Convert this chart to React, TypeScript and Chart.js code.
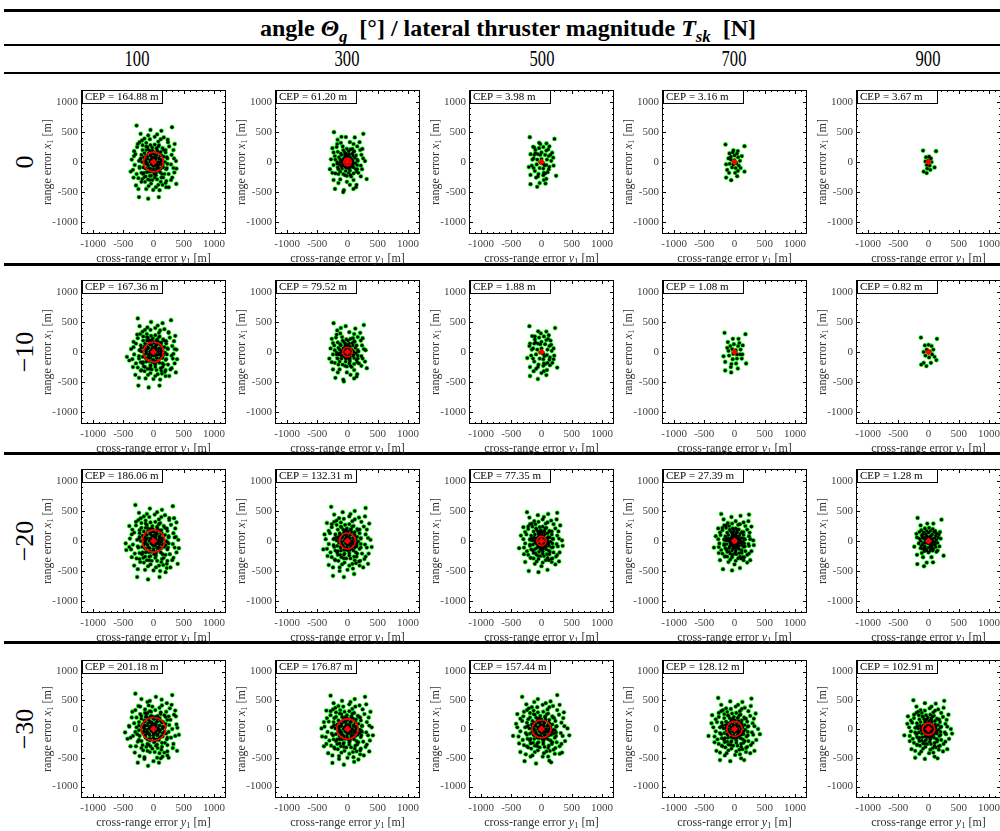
import { useEffect, useRef } from "react";
import { Chart, registerables } from "chart.js";

Chart.register(...registerables);

// ---- table headings ----
const THRUSTS = [100, 300, 500, 700, 900];
const ANGLES = [0, -10, -20, -30];

// ---- axes (metres) ----
const AXIS_MIN = -1200;
const AXIS_MAX = 1200;
const AXIS_TICKS = [-1000, -500, 0, 500, 1000];

// ---- circular error probable per angle row, one value per thrust ----
const CEP_A0 = [164.88, 61.2, 3.98, 3.16, 3.67];
const CEP_A10 = [167.36, 79.52, 1.88, 1.08, 0.82];
const CEP_A20 = [186.06, 132.31, 77.35, 27.39, 1.28];
const CEP_A30 = [201.18, 176.87, 157.44, 128.12, 102.91];

// mean impact point
const CENTER = [0, 0];

// ---- impact points, flat pairs [cross-range y1, range x1] in metres ----
const CLOUD_A0_T100 = [
  -280, 607, 306, 580, -50, 535, 130, 520, -213, 470, -88, 443, 235, 372, 350, 300, -323, 98, -377, -159, 372, 16, 345, -175,
  377, -366, -240, -585, -88, -612, 88, -585, -5, -465, -186, -284, 252, -421, 213, -317, -290, -390, 380, -110,
  -270, 250, -230, 330, -150, 390, 20, 420, 170, 410, 260, 260, 300, 120, 290, -40, 250, -200, 150, -380, 40, -420, -80, -400,
  -200, -330, -280, -200, -310, -50, -300, 130, -180, 280, 80, 340, 200, 200, 220, -100, 160, -260, -60, -300, -160, -180,
  -220, 40, -120, 320, 120, -330, 310, -260, -330, -260, 60, 460, -250, -450,
  -320, 180, -260, 300, -190, 360, 120, 380, 240, 330, 330, 200, 340, 60, 330, -100, 290, -300, 200, -350, 80, -380,
  -40, -360, -140, -330, -250, -270, -340, -130, -360, 40, -60, 380, 210, -420, -120, -450, 100, -470,
  -200, 120, -180, 200, -120, 260, -50, 280, 20, 290, 90, 280, 150, 230, 200, 160, 220, 80, 230, -30, 210, -120, 180, -200,
  130, -260, 60, -290, -20, -300, -90, -290, -150, -250, -200, -180, -230, -80, -240, 20, -210, 60, -140, 20, -90, -60,
  -30, -160, 40, -160, 100, -110, 150, -40, 120, 40, 60, 200, -20, 190, -100, 250, 20, -260, -170, -200, 170, 200, -60, -230,
  -150, 150, -90, 210, -20, 240, 50, 230, 120, 170, 170, 90, 190, 0, 160, -90, 110, -170, 40, -220, -40, -230, -110, -170,
  -170, -90, -190, 0, -160, 80, -100, 90, -40, 130, 30, 120, 90, 70, 110, -20, 70, -90, 0, -120, -70, -100, -110, -30,
  -50, 30, 20, 40, 60, -40, -20, -50, 0, 80, -60, 190, 80, 260, -130, -240, 140, -200, 230, 60, -230, -100,
  -130, 40, -80, 150, -10, 180, 60, 170, 130, 110, 150, 30, 140, -50, 90, -140, 20, -170, -60, -160, -130, -110, -150, -30,
  -30, 80, 40, 70, 80, 0, 30, -60, -40, 0, 110, 120, -120, 200, 10, -200,
  -60, 0, -30, -40, 0, -70, 30, -40, 60, 0, 30, 40, 0, 70, -30, 40, -90, 50, -90, -50, 90, 50, 90, -50, 0, 140, 0, -140,
  -50, 110, 50, 110, -50, -110, 50, -110, -120, 0, 120, 0, -120, 110, 120, -110, -120, -110, 120, 110, -150, 60, 150, -60,
  -40, 180, 40, -180, 80, 160, -80, -160, 20, 10, -10, -20,
];
const CLOUD_A0_T300 = [
  -224, 497, 262, 470, -27, 415, 120, 410, -164, 371, -273, 44, -290, -120, -230, -300, -207, -448, -71, -502, 98, -448,
  317, -284, 290, 16, 246, 218, -60, -470, 150, -380, -250, 230, 200, 330,
  -230, 160, -170, 300, 100, 300, 210, 200, 260, 60, 240, -120, 220, -240, 40, -380, -150, -350, -250, -180, 140, -420, -100, 420,
  -180, 250, -110, 320, 40, 330, 160, 260, 230, 120, 220, -60, 180, -180, 100, -300, -10, -330, -120, -290, -200, -190,
  -230, -50, -210, 100, -80, 260, 80, 220, 160, -120, -150, -120, -40, -220, 60, -240,
  -140, 80, -110, 140, -70, 200, -10, 220, 50, 210, 100, 170, 140, 110, 160, 40, 160, -50, 140, -120, 100, -190, 50, -220,
  -10, -230, -70, -200, -120, -160, -160, -90, -170, 0, -120, -10, -70, -60, -20, -100, 40, -100, 90, -40, 80, 30,
  30, 130, -40, 130, -90, 30, 20, -180, 150, -160, -150, -200, -200, 40,
  -100, 120, -50, 170, 20, 180, 80, 140, 120, 70, 130, -20, 100, -90, 40, -140, -30, -150, -90, -110, -130, -40, -120, 40,
  -60, 60, 0, 90, 50, 50, 60, -30, 10, -70, -50, -30, 0, 20, -20, 140, 110, 180, -160, 170, 170, 20, -170, -30,
  -80, 0, -20, 40, 40, 10, 90, 100, -100, -70, 30, -110, -40, 110, 80, -70,
  -45, 0, -20, -30, 0, -50, 20, -30, 45, 0, 20, 30, 0, 50, -20, 30, -70, 40, -70, -40, 70, 40, 70, -40, 0, 100, 0, -100,
  -40, 80, 40, 80, -40, -80, 40, -80, -90, 0, 90, 0,
];
const CLOUD_A0_T500 = [
  -193, 413, 215, 385, -39, 319, 82, 308, -138, 253, 176, 154, 193, 72, -209, -83, -182, -215, 242, -231, -182, -369,
  -72, -413, 66, -358, -30, -350,
  -130, 60, -100, 150, 80, 190, 120, 100, 120, -120, 60, -190, -60, -240, -130, -100, -180, 130, 200, -60, -20, 300,
  40, -300, -20, 120, 50, -60, -120, 240,
  -100, 200, -40, 230, 30, 250, 110, 210, 150, 120, 160, 20, 130, -80, 100, -170, 30, -220, -50, -200, -110, -150,
  -160, -60, -150, 40, -120, 120, -60, 130, 0, 160, 60, 120, 90, 40, 80, -50, 30, -110, -30, -100, -80, -40, -70, 40,
  0, 50, 30, -30, -20, -10, 40, -180, -90, -260, 80, -280, 130, 260,
];
const CLOUD_A0_T700 = [
  -149, 292, 165, 264, -17, 193, 55, 182, -83, 143, 121, 99, -138, -39, -121, -132, 165, -160, -138, -259, -55, -303,
  44, -237, 55, -149,
  -60, 90, 0, 110, 60, 80, 90, 20, 70, -60, 20, -100, -40, -90, -80, -30, -60, 40, 0, 30, 30, -20, -20, -40, 100, -100,
  -100, 60, 10, -180, -30, 160, 40, 140, -90, -180,
];
const CLOUD_A0_T900 = [
  -90, 190, 125, 180, -80, -160, -30, -185, 100, -90, 30, -130, -40, 80, 10, 90, 40, 60, 50, 0, 20, -60, -30, -50, -50, 10,
  0, 30, -20, -110,
];

const CLOUD_A10_T100 = [
  -260, 560, 290, 530, -40, 500, 150, 480, -230, 430, -100, 410, 250, 330, 360, 270, -330, 80, -400, -140, 380, 40, 350, -190,
  370, -340, -250, -560, -80, -590, 100, -560, 0, -450, -200, -300, 260, -400, 200, -300, -300, -380, 390, -120, -440, -80,
  330, -30,
  -260, 230, -220, 300, -140, 370, 30, 400, 180, 380, 270, 240, 310, 100, 300, -60, 240, -210, 140, -360, 30, -400, -90, -380,
  -210, -310, -290, -190, -320, -40, -290, 140, -170, 260, 90, 320, 210, 180, 210, -120, 150, -250, -70, -280, -170, -170,
  -230, 30, -110, 300, 130, -310, 300, -270, -340, -250, 70, 440, -240, -430,
  -330, 170, -270, 290, -180, 340, 110, 360, 250, 320, 340, 180, 350, 50, 320, -110, 280, -290, 190, -330, 70, -370,
  -50, -350, -150, -320, -260, -260, -350, -120, -370, 50, -50, 370, 200, -400, -130, -440, 110, -460,
  -210, 110, -170, 190, -110, 250, -40, 270, 30, 280, 100, 260, 160, 210, 210, 140, 230, 60, 220, -40, 200, -130, 170, -210,
  120, -270, 50, -300, -30, -290, -100, -280, -160, -240, -210, -170, -240, -70, -230, 30, -200, 70, -130, 30, -80, -50,
  -20, -170, 50, -150, 110, -100, 160, -50, 130, 50, 50, 190, -30, 200, -90, 240, 30, -250, -180, -190, 180, 190, -50, -240,
  -140, 140, -80, 200, -10, 230, 60, 210, 130, 160, 180, 80, 190, -10, 150, -100, 100, -180, 30, -210, -50, -220, -120, -160,
  -180, -80, -200, 10, -150, 90, -90, 80, -30, 120, 40, 110, 90, 60, 120, -30, 60, -100, -10, -130, -80, -90, -120, -20,
  -40, 20, 30, 30, 60, -50, -30, -60, 10, 70, -70, 180, 90, 250, -140, -250, 150, -190, 240, 50, -240, -110,
  -120, 40, -70, 140, 0, 170, 70, 160, 130, 100, 150, 20, 130, -60, 80, -150, 10, -170, -70, -150, -130, -100, -150, -40,
  -20, 70, 40, 60, 80, 10, 20, -60, -50, -10, 100, 130, -110, 190, 20, -190,
  -60, 10, -30, -30, 0, -60, 30, -30, 60, 10, 30, 50, 0, 80, -30, 50, -90, 60, -90, -40, 90, 60, 90, -40, 10, 150, 0, -130,
  -50, 120, 50, 120, -50, -100, 50, -100, -120, 10, 120, 10, -120, 120, 120, -100, -120, -100, 120, 120, -150, 70, 150, -50,
  -40, 190, 40, -170, 80, 170, -80, -150, 20, 20, -10, -10,
];
const CLOUD_A10_T300 = [
  -230, 480, 270, 450, -30, 430, 130, 390, -170, 360, -280, 60, -300, -110, -240, -290, -200, -430, -60, -490, 110, -440,
  320, -270, 300, 30, 250, 230, -70, -460, 160, -370, -260, 220, 210, 320, 290, -160,
  -240, 150, -180, 290, 110, 300, 220, 190, 270, 50, 250, -110, 230, -230, 50, -380, -160, -340, -260, -170, 150, -410, -110, 400,
  -190, 240, -120, 310, 30, 330, 170, 250, 240, 110, 230, -70, 190, -190, 110, -300, -10, -340, -130, -290, -210, -180,
  -240, -40, -220, 110, -90, 250, 90, 230, 170, -110, -160, -110, -40, -230, 70, -250,
  -150, 70, -120, 130, -80, 190, -20, 210, 50, 220, 110, 180, 150, 110, 170, 30, 170, -60, 150, -130, 110, -200, 50, -230,
  -10, -240, -80, -210, -130, -160, -170, -100, -180, -10, -130, -20, -80, -70, -30, -110, 40, -110, 100, -50, 90, 20,
  30, 140, -40, 140, -100, 20, 30, -190, 160, -170, -150, -210, -210, 30,
  -110, 110, -60, 170, 10, 190, 80, 150, 130, 70, 140, -20, 110, -100, 40, -150, -30, -160, -100, -110, -140, -40, -130, 40,
  -70, 60, 0, 90, 60, 50, 60, -40, 10, -80, -50, -30, 0, 20, -20, 130, 120, 170, -160, 160, 180, 10, -180, -40,
  -80, 10, -20, 50, 40, 0, 90, 110, -100, -60, 30, -120, -40, 100, 90, -60,
  -50, 0, -20, -40, 0, -50, 20, -20, 50, 10, 20, 40, 0, 60, -20, 20, -70, 30, -70, -50, 70, 30, 70, -50, 0, 110, 10, -100,
  -40, 70, 40, 90, -40, -90, 40, -70, -100, 0, 100, 0,
];
const CLOUD_A10_T500 = [
  -200, 430, 225, 400, -235, -100, 260, -260, -190, -400, -60, -450, 80, -385, -55, 345, 80, 340, -155, 265, 150, 190,
  -190, -250, 200, 60, -200, 100, 0, -350,
  -140, 60, -100, 160, 80, 200, 130, 100, 130, -130, 60, -200, -60, -250, -140, -110, -190, 140, 210, -60, -10, 310,
  40, -320, -20, 130, 50, -70, -110, 260, 180, -180,
  -110, 210, -40, 240, 40, 260, 110, 220, 160, 120, 170, 20, 140, -90, 100, -180, 30, -230, -50, -210, -120, -160,
  -170, -60, -160, 40, -120, 140, -60, 140, 0, 170, 60, 130, 100, 40, 90, -50, 30, -120, -30, -110, -90, -40, -70, 40,
  0, 60, 30, -30, -20, -10, 40, -190, -90, -280, 90, -300, 120, 280, -130, -320, 140, -220, 200, -120,
];
const CLOUD_A10_T700 = [
  -165, 319, 181, 297, -27, 220, 66, 220, -110, 165, 137, 110, -181, -71, -154, -165, 192, -192, -154, -308, -55, -341,
  55, -275, 27, -192,
  -70, 100, -10, 130, 60, 100, 100, 40, 90, -40, 40, -110, -30, -120, -90, -60, -100, 20, -40, 50, 20, 30, 40, -40,
  -20, -30, 0, 0, 120, -110, -120, 70, -50, -200, 80, 150, 130, -40, -60, -250,
];
const CLOUD_A10_T900 = [
  -125, 240, 140, 220, -120, -210, -35, -235, 130, -135, 40, -180, -60, 110, 0, 120, 50, 100, 80, 40, 60, -40, 10, -90,
  -50, -60, -80, 0, -30, 40, 20, 10, -80, -180, 100, -80,
];

const CLOUD_A20_T100 = [
  -300, 600, 320, 580, -60, 540, 140, 520, -240, 470, -110, 450, 260, 380, 380, 310, -360, 110, -450, -150, 410, 20, 380, -190,
  400, -380, -270, -600, -90, -640, 100, -600, 0, -490, -230, -300, 280, -440, 230, -330, -320, -410, 420, -120, -460, -40,
  350, 60, -400, 250, 200, -520,
  -290, 260, -250, 350, -160, 410, 20, 440, 190, 430, 290, 270, 330, 130, 320, -50, 270, -220, 160, -400, 40, -440, -90, -420,
  -220, -350, -310, -210, -340, -60, -320, 140, -200, 300, 90, 360, 220, 210, 240, -110, 170, -280, -70, -320, -180, -190,
  -240, 40, -130, 340, 130, -350, 330, -280, -360, -270, 60, 480, -260, -470, 340, 380, -400, -100,
  -350, 190, -290, 320, -210, 380, 130, 400, 260, 350, 360, 210, 370, 70, 350, -110, 310, -320, 220, -380, 90, -410,
  -50, -390, -160, -360, -280, -290, -370, -140, -390, 40, -70, 400, 220, -450, -140, -480, 110, -500,
  -230, 130, -200, 220, -130, 290, -50, 310, 30, 320, 110, 300, 170, 250, 230, 170, 250, 80, 250, -40, 230, -140, 200, -230,
  140, -300, 60, -330, -30, -330, -110, -320, -170, -280, -230, -200, -260, -90, -270, 20, -230, 70, -150, 30, -100, -70,
  -40, -180, 50, -180, 110, -120, 170, -50, 140, 50, 60, 220, -30, 210, -110, 270, 30, -280, -190, -220, 190, 220,
  -70, -260, -160, -60, 200, -70, 10, -30,
  -160, 160, -100, 220, -20, 250, 60, 240, 130, 180, 190, 100, 210, 0, 180, -100, 120, -190, 40, -240, -50, -250, -130, -190,
  -190, -100, -210, 0, -180, 90, -110, 100, -40, 140, 30, 130, 100, 80, 120, -20, 80, -100, 0, -130, -80, -110, -120, -40,
  -60, 40, 20, 50, 70, -40, -20, -60, 0, 90, -60, 200, 90, 280, -140, -260, 150, -220, 250, 60, -250, -110, -230, 180,
  230, -20, 60, 170, -70, -180, 130, 40, -120, 20,
  -140, 60, -90, 170, -10, 200, 70, 190, 140, 120, 160, 40, 150, -60, 100, -150, 20, -190, -60, -180, -140, -120, -160, -40,
  -30, 90, 40, 80, 90, 10, 30, -80, -40, 10, 120, 140, -130, 220, 10, -220,
  -70, 0, -40, -40, 0, -80, 40, -40, 70, 0, 40, 40, 0, 80, -40, 40, -100, 50, -100, -60, 100, 50, 100, -60, 0, 160, 0, -160,
  -60, 120, 60, 120, -60, -120, 60, -120, -140, 0, 140, 0, -130, 120, 130, -120, -130, -130, 130, 130, -170, 60, 170, -60,
  -40, 200, 40, -200, 90, 180, -90, -180, 20, 10, -10, -20,
];
const CLOUD_A20_T300 = [
  -270, 570, 300, 550, -80, 480, 120, 500, -220, 440, 360, 290, -380, 110, -400, -140, 380, 20, 350, -210, 340, -380,
  -240, -580, -60, -600, 110, -550, 0, -480, -210, -310, 260, -440, 210, -330, -310, -400, 400, -100, -340, 300, 290, 410,
  -130, -500,
  -260, 230, -220, 320, -140, 380, 30, 410, 190, 390, 270, 240, 300, 110, 290, -60, 240, -210, 140, -370, 30, -410, -90, -390,
  -200, -320, -280, -190, -310, -50, -290, 130, -180, 270, 80, 330, 200, 190, 220, -110, 150, -260, -60, -290, -160, -170,
  -220, 40, -110, 310, 120, -320, 300, -260, -330, -250, 50, 450, -240, -440,
  -310, 170, -260, 280, -180, 340, 120, 360, 230, 320, 320, 190, 340, 50, 320, -110, 280, -300, 190, -340, 80, -380,
  -50, -360, -150, -330, -260, -270, -340, -130, -360, 30, -60, 370, 200, -410, -130, -440, 90, -460,
  -200, 110, -160, 190, -110, 240, -40, 270, 30, 280, 100, 250, 160, 200, 200, 130, 220, 50, 220, -50, 200, -130, 160, -210,
  110, -260, 50, -290, -20, -290, -100, -270, -160, -230, -200, -160, -230, -70, -230, 30, -190, 60, -130, 20, -90, -60,
  -30, -150, 40, -150, 100, -100, 150, -40, 120, 40, 50, 190, -30, 180, -100, 230, 30, -240, -170, -190, 170, 180, -60, -230,
  -130, 130, -70, 190, -10, 210, 60, 200, 120, 150, 160, 70, 180, -10, 150, -90, 100, -160, 30, -200, -50, -210, -110, -160,
  -170, -80, -180, 10, -150, 70, -80, 80, -20, 110, 40, 100, 90, 50, 100, -30, 60, -90, -10, -110, -70, -80, -100, -20,
  -40, 30, 20, 30, 50, -40, -20, -40, 0, 60, -50, 170, 80, 240, -120, -230, 140, -190, 220, 40, -220, -100,
  -110, 50, -60, 140, 10, 160, 70, 150, 120, 90, 140, 20, 120, -50, 70, -130, 10, -160, -60, -150, -120, -100, -140, -30,
  -20, 70, 30, 60, 70, 0, 20, -60,
  -60, 0, -30, -40, 0, -70, 30, -40, 60, 0, 30, 40, 0, 70, -30, 40, -90, 50, -90, -50, 90, 50, 90, -50, 0, 140, 0, -140,
  -50, 110, 50, 110, -50, -110, 50, -110, -120, 0, 120, 0, -120, 110, 120, -110, -110, -110, 110, 110, -150, 60, 150, -60,
];
const CLOUD_A20_T500 = [
  -240, 480, 260, 470, -60, 430, 110, 450, -200, 390, 310, 260, -340, 90, -370, -120, 340, 10, 300, -190, 290, -340,
  -210, -500, -50, -520, 100, -480, 0, -420, -180, -280, 230, -390, 180, -290, -270, -350, 350, -80, -300, 230, 250, 360,
  -220, 200, -190, 280, -120, 330, 20, 360, 160, 340, 230, 210, 260, 90, 250, -50, 200, -190, 120, -320, 20, -360, -80, -340,
  -180, -280, -240, -170, -270, -40, -250, 110, -150, 240, 70, 290, 170, 160, 190, -100, 130, -220, -50, -250, -140, -150,
  -190, 30, -100, 280, 100, -280, 260, -230, -290, -220, 40, 400,
  -270, 150, -220, 240, -160, 290, 100, 310, 200, 280, 280, 160, 290, 40, 270, -90, 240, -260, 160, -300, 70, -320,
  -50, -300, -130, -290, -220, -230, -290, -110, -300, 30, -50, 320, 170, -350, -110, -380,
  -170, 90, -130, 160, -90, 210, -30, 230, 20, 240, 80, 220, 130, 170, 170, 110, 190, 40, 180, -40, 170, -110, 140, -180,
  90, -220, 40, -250, -20, -250, -80, -230, -130, -200, -170, -140, -190, -60, -190, 20, -160, 50, -110, 20, -70, -50,
  -20, -130, 30, -130, 80, -90, 120, -30, 100, 40, 40, 160, -20, 160, -80, 190, 20, -210, -140, -160, 140, 160,
  -110, 110, -60, 160, -10, 180, 50, 170, 100, 130, 140, 60, 150, -10, 130, -80, 80, -140, 20, -170, -40, -180, -100, -130,
  -140, -60, -150, 10, -120, 60, -60, 60, -20, 90, 30, 80, 70, 40, 80, -30, 40, -70, -10, -90, -60, -60, -80, -10,
  -30, 20, 20, 20, 40, -30, -10, -30, 0, 40, -40, 140, 60, 210, -100, -200, 120, -160, 190, 30, -190, -80,
  -90, 40, -50, 120, 10, 140, 60, 120, 110, 70, 110, -50, 60, -110, -10, -140, -70, -110, -110, -30,
  -50, 0, -20, -40, 0, -60, 20, -40, 50, 0, 20, 40, 0, 60, -20, 40, -80, 40, -80, -40, 80, 40, 80, -40, 0, 120, 0, -120,
  -40, 90, 40, 90, -40, -90, 40, -90, -100, 0, 100, 0,
];
const CLOUD_A20_T700 = [
  -220, 450, 240, 440, -50, 400, 100, 420, -180, 360, 280, 240, -310, 80, -340, -110, 310, 10, 280, -170, 260, -320,
  -190, -470, -40, -490, 90, -450, 0, -390, -160, -260, 210, -360, 160, -270, -240, -320, 320, -70, -270, 210, 230, 330,
  -200, 180, -170, 260, -110, 300, 20, 330, 150, 310, 210, 190, 240, 80, 230, -50, 180, -170, 110, -290, 20, -330, -70, -310,
  -160, -250, -220, -150, -250, -40, -230, 100, -140, 220, 60, 270, 150, 150, 170, -90, 120, -200, -40, -230, -130, -140,
  -170, 30, -90, 250, 90, -260, 240, -210, -260, -200,
  -240, 140, -200, 220, -140, 260, 90, 280, 180, 250, 250, 140, 260, 30, 240, -80, 210, -230, 140, -270, 60, -290,
  -40, -270, -120, -260, -200, -210, -260, -100, -270, 30, -40, 290, 150, -320, -100, -350,
  -150, 80, -120, 140, -80, 190, -30, 210, 20, 210, 70, 190, 120, 150, 150, 100, 170, 30, 160, -40, 150, -100, 120, -160,
  80, -200, 30, -220, -20, -220, -70, -210, -120, -180, -150, -120, -170, -50, -170, 20, -140, 40, -100, 10, -60, -40,
  -20, -120, 30, -120, 70, -80, 110, -30, 90, 30, 40, 140, -20, 140, -70, 170, 20, -190, -130, -150, 130, 140,
  -100, 100, -50, 150, -10, 170, 40, 160, 90, 120, 130, 50, 140, -10, 120, -70, 70, -130, 20, -160, -40, -160, -90, -120,
  -130, -50, -140, 10, -110, 50, -50, 50, -20, 80, 30, 70, 60, 40, 70, -30, 40, -60, -10, -80, -50, -50, -70, -10,
  -30, 20, 20, 20, 30, -30, -10, -30, 0, 40, -40, 130, 50, 190, -90, -180, 110, -150, 170, 30, -170, -70,
  -80, 30, -30, 110, 20, 120, 80, 80, 100, 0, 60, -100, -20, -120, -80, -90,
  -45, 0, -20, -30, 0, -50, 20, -30, 45, 0, 20, 30, 0, 50, -20, 30, -70, 40, -70, -40, 70, 40, 70, -40, 0, 100, 0, -100,
  -40, 80, 40, 80, -40, -80, 40, -80, -90, 0, 90, 0,
];
const CLOUD_A20_T900 = [
  -180, 385, 215, 355, -235, -95, 250, -245, -185, -385, -75, -420, 75, -355, -20, 290, 80, 290, -130, 260, 190, 150,
  -190, -230, -90, -270, 50, -270, 200, 40, -200, 120, 130, -180, -30, -360,
  -120, 180, -60, 210, 10, 220, 70, 200, 130, 130, 160, 60, 150, -30, 120, -100, 70, -160, 0, -190, -70, -170, -130, -120,
  -160, -40, -150, 40, -100, 110, -50, 120, 0, 140, 60, 110, 100, 50, 100, -20, 60, -80, 0, -110, -60, -90, -90, -30,
  -60, 40, -10, 60, 40, 20, 20, -40, -30, -20, 0, 0, -40, -140, 40, -140, 110, 170, -110, -200, 180, -90, -190, 60,
  -90, 60, -30, 90, 30, 80, 80, -50, -100, -60, 30, -90,
  -110, 90, -80, 150, -30, 170, 30, 170, 90, 150, 120, 90, 130, 20, 110, -60, 80, -130, 30, -160, -30, -160, -90, -130,
  -120, -80, -130, 0, -100, 50, -40, 80, 40, 80, 70, 0, 30, -60, -50, -30, -20, 20, 50, -110, -60, -110, 150, -160,
  -150, 150, 170, 110,
  -40, 0, -20, -30, 0, -40, 20, -30, 40, 0, 20, 30, 0, 40, -20, 30, -60, 30, -60, -30, 60, 30, 60, -30,
];

const CLOUD_A30_T100 = [
  -300, 615, 310, 590, -100, 470, 135, 510, -405, 55, -430, -170, -310, -410, -260, -585, -90, -640, 90, -585, 390, -380,
  395, 20, 360, 320, -200, 520, 40, 560, 220, 450, -350, 300, -250, 400, 300, 420, -380, -300, 250, -500, -150, -520,
  150, -480, 420, -100, -470, -60, 0, -560, 330, -260, -230, -470, 60, -500, -60, 490,
  -280, 200, -320, 100, -300, -50, -260, -220, -200, -330, -100, -380, 20, -400, 130, -360, 230, -280, 290, -150, 310, 0,
  280, 160, 210, 300, 100, 370, -20, 390, -140, 340, -220, 260, 180, -410, -340, -120, 340, 250, -50, -300, 250, 220,
  -360, 200, -300, 330, -220, 390, 140, 410, 270, 360, 370, 220, 380, 80, 360, -120, 320, -330, 230, -390, 100, -420,
  -60, -400, -170, -370, -290, -300, -380, -150, -400, 40, -80, 410, 230, -460, -150, -490, 120, -510,
  -240, 120, -200, 230, -140, 280, -60, 310, 30, 330, 120, 290, 180, 240, 230, 160, 260, 70, 250, -50, 230, -150, 190, -240,
  140, -310, 70, -330, -20, -340, -120, -310, -180, -280, -240, -190, -270, -90, -280, 30, -240, 60, -160, 40, -110, -80,
  -50, -170, 60, -180, 120, -130, 180, -60, 150, 40, 70, 230, -20, 220, -100, 280, 40, -290, -200, -210, 200, 210,
  -80, -270, -150, -50, 210, -80, 20, -20,
  -150, 150, -100, 200, -40, 230, 30, 210, 100, 180, 160, 120, 190, 40, 180, -50, 150, -130, 90, -190, 20, -220, -60, -200,
  -130, -150, -180, -60, -190, 30, -170, 90, -90, 100, -30, 120, 40, 110, 100, 60, 110, -20, 70, -90, 0, -110, -70, -80,
  -110, -10, -60, 40, 10, 30, 50, -30, -20, -40, 0, 60, 60, 130, -120, 250, 120, 260, -230, -120, 220, -180, -100, -260,
  60, -270, -40, 300, 140, -240, -200, 180, 200, 90, -240, -20,
  -140, 60, -80, 160, -10, 190, 70, 180, 140, 110, 160, 20, 150, -70, 100, -150, 20, -180, -70, -170, -140, -110, -160, -30,
  -30, 90, 40, 80, 90, 0, 30, -70, -50, 0, 120, 140, -130, 210, 10, -230,
  -70, 10, -40, -30, 0, -80, 40, -30, 70, 10, 40, 50, 0, 90, -40, 50, -100, 60, -100, -50, 100, 60, 100, -50, 10, 170, 0, -150,
  -60, 130, 60, 130, -60, -110, 60, -110, -150, 10, 150, 10, -140, 130, 140, -120, -140, -120, 140, 130, -180, 70, 180, -50,
  -50, 210, 50, -190, 100, 190, -100, -180, 20, 20, -10, -10,
];
const CLOUD_A30_T300 = [
  -280, 580, 290, 560, -90, 490, 120, 520, -230, 450, 380, 300, -390, 120, -420, -130, 400, 30, 370, -200, 360, -390,
  -250, -590, -60, -620, 110, -570, 0, -500, -220, -320, 270, -460, 220, -340, -320, -420, 420, -110, -430, 10, 310, 430,
  -350, 320, 180, -530, -140, -520,
  -280, 240, -240, 340, -150, 400, 30, 430, 200, 410, 280, 260, 320, 120, 310, -60, 260, -220, 150, -390, 30, -430, -100, -410,
  -210, -340, -300, -200, -330, -50, -310, 130, -190, 290, 80, 350, 210, 200, 230, -110, 160, -270, -60, -310, -170, -180,
  -230, 50, -120, 330, 120, -340, 320, -270, -350, -260, 50, 470, -250, -460, -390, -300,
  -340, 190, -280, 310, -200, 370, 130, 390, 250, 340, 350, 200, 360, 60, 340, -110, 300, -310, 210, -370, 90, -400,
  -50, -380, -160, -350, -270, -290, -360, -140, -380, 40, -70, 390, 210, -440, -140, -470, 100, -490,
  -230, 120, -190, 210, -130, 270, -50, 300, 30, 310, 110, 280, 170, 230, 220, 150, 240, 60, 240, -50, 220, -140, 180, -230,
  130, -290, 60, -320, -20, -320, -110, -300, -170, -260, -230, -180, -260, -80, -260, 30, -220, 70, -150, 30, -100, -70,
  -40, -170, 50, -170, 110, -120, 170, -50, 140, 40, 60, 210, -30, 210, -100, 260, 30, -270, -190, -210, 190, 210,
  -70, -260, -150, -60, 200, -70,
  -150, 150, -90, 210, -10, 240, 70, 230, 140, 170, 180, 90, 200, -10, 170, -100, 110, -180, 30, -230, -60, -240, -130, -180,
  -190, -90, -200, 10, -170, 80, -100, 90, -30, 130, 40, 120, 100, 70, 110, -30, 70, -100, -10, -120, -80, -100, -120, -30,
  -50, 30, 20, 40, 60, -50, -20, -50, 0, 70, -60, 190, 80, 270, -130, -250, 150, -210, 240, 50, -240, -110, -220, 190,
  220, -20, 60, 160,
  -130, 50, -70, 150, 0, 180, 70, 170, 130, 110, 150, 30, 140, -60, 90, -150, 10, -180, -70, -160, -130, -110, -150, -40,
  -20, 80, 40, 70, 80, 0, 30, -70,
  -70, 0, -40, -40, 0, -80, 40, -40, 70, 0, 40, 40, 0, 80, -40, 40, -100, 50, -100, -60, 100, 50, 100, -60, 0, 160, 0, -160,
  -60, 120, 60, 120, -60, -120, 60, -120, -140, 0, 140, 0, -130, 120, 130, -120, -130, -130, 130, 130, -170, 60, 170, -60,
  -40, 200, 40, -200, 90, 180, -90, -180,
];
const CLOUD_A30_T500 = [
  -320, 560, 260, 590, -60, 520, 150, 480, -250, 430, 370, 290, -420, 90, -470, -120, 430, 10, 390, -210, 340, -410,
  -280, -560, -90, -600, 130, -550, 20, -480, -240, -300, 300, -430, 230, -330, -350, -400, 460, -110, -400, 260, 300, 420,
  160, -580, -180, -480, -120, 470,
  -300, 220, -240, 330, -160, 380, 20, 420, 190, 400, 290, 250, 330, 110, 320, -70, 250, -230, 140, -380, 40, -420, -110, -400,
  -220, -320, -310, -190, -350, -40, -320, 140, -190, 280, 100, 340, 210, 190, 240, -120, 170, -260, -70, -300, -180, -170,
  -240, 40, -130, 320, 110, -330, 330, -260, -370, -250, 70, 450, -260, -440,
  -350, 180, -290, 300, -210, 360, 130, 380, 260, 330, 360, 190, 380, 50, 350, -120, 300, -300, 200, -360, 80, -390,
  -60, -370, -170, -340, -290, -280, -380, -130, -400, 30, -70, 380, 220, -430, -150, -460, 110, -480,
  -240, 110, -190, 200, -130, 260, -60, 290, 30, 300, 110, 270, 180, 220, 230, 140, 250, 50, 240, -60, 220, -150, 180, -230,
  120, -290, 50, -310, -30, -320, -110, -290, -180, -250, -230, -170, -260, -70, -270, 30, -220, 60, -150, 20, -100, -80,
  -40, -160, 50, -160, 110, -110, 170, -40, 140, 50, 60, 200, -30, 200, -110, 250, 30, -260, -190, -200, 190, 200,
  -70, -250, -150, -50, 200, -80,
  -150, 140, -90, 200, -20, 230, 60, 220, 130, 160, 180, 80, 200, -10, 160, -100, 110, -180, 30, -220, -50, -230, -120, -170,
  -190, -80, -200, 10, -160, 80, -100, 90, -30, 120, 40, 110, 100, 60, 110, -30, 60, -100, -10, -120, -80, -90, -120, -20,
  -50, 30, 20, 40, 60, -50, -20, -50, 0, 70, -60, 180, 90, 260, -140, -240, 150, -200, 240, 40, -240, -100, -220, 170,
  220, -20,
  -130, 50, -70, 140, 0, 170, 70, 160, 130, 100, 150, 20, 130, -60, 80, -150, 10, -170, -70, -150, -130, -100, -150, -40,
  -20, 80, 40, 70, 80, 0, 30, -70,
  -60, 0, -30, -40, 0, -70, 30, -40, 60, 0, 30, 40, 0, 70, -30, 40, -90, 50, -90, -50, 90, 50, 90, -50, 0, 140, 0, -140,
  -50, 110, 50, 110, -50, -110, 50, -110, -120, 0, 120, 0, -120, 110, 120, -110, -120, -110, 120, 110, -150, 60, 150, -60,
  -40, 180, 40, -180,
];
const CLOUD_A30_T700 = [
  -270, 540, 280, 530, -70, 480, 130, 470, -220, 420, 350, 270, -380, 100, -430, -120, 390, 0, 360, -190, 330, -380,
  -240, -540, -70, -560, 110, -510, 10, -450, -210, -290, 260, -420, 210, -310, -300, -380, 420, -90, -370, 240, 270, 400,
  160, -540, -160, -460,
  -260, 210, -220, 310, -140, 360, 20, 390, 170, 370, 260, 230, 300, 100, 290, -60, 230, -210, 130, -350, 30, -390, -100, -370,
  -200, -300, -280, -180, -310, -40, -290, 120, -170, 260, 90, 310, 190, 180, 220, -110, 150, -240, -60, -280, -160, -160,
  -220, 40, -120, 300, 110, -310, 300, -240, -330, -230, 60, 420, -240, -410,
  -310, 170, -260, 280, -190, 330, 120, 350, 230, 310, 320, 180, 330, 50, 310, -100, 270, -280, 190, -330, 80, -360,
  -50, -340, -150, -320, -260, -260, -330, -130, -350, 30, -60, 350, 190, -400, -130, -420, 90, -440,
  -210, 110, -170, 190, -110, 240, -40, 270, 30, 280, 100, 250, 160, 200, 210, 130, 230, 50, 220, -50, 200, -130, 170, -210,
  110, -260, 50, -290, -20, -290, -100, -270, -160, -230, -210, -160, -240, -70, -240, 30, -200, 60, -140, 20, -90, -60,
  -30, -150, 40, -150, 100, -100, 150, -40, 130, 40, 50, 190, -30, 180, -100, 230, 30, -240, -170, -190, 170, 180, -60, -230,
  -140, 130, -80, 190, -10, 210, 60, 200, 120, 150, 170, 70, 180, -10, 150, -90, 100, -160, 30, -200, -50, -210, -110, -150,
  -170, -70, -180, 10, -150, 70, -90, 80, -30, 110, 40, 100, 90, 50, 100, -30, 60, -90, -10, -110, -70, -80, -110, -20,
  -40, 30, 20, 30, 50, -40, -20, -40, 0, 60, -50, 160, 80, 240, -120, -220, 140, -180, 220, 40, -220, -90,
  -120, 50, -60, 130, 10, 150, 70, 140, 120, 90, 130, 20, 120, -60, 70, -130, 0, -160, -60, -140, -120, -90, -130, -30,
  -20, 70, 30, 60,
  -60, 0, -30, -40, 0, -60, 30, -40, 60, 0, 30, 40, 0, 60, -30, 40, -80, 50, -80, -50, 80, 50, 80, -50, 0, 130, 0, -130,
  -50, 100, 50, 100, -50, -100, 50, -100, -110, 0, 110, 0, -110, 100, 110, -100, -110, -100, 110, 100,
];
const CLOUD_A30_T900 = [
  -250, 500, 260, 490, -60, 450, 120, 440, -200, 390, 330, 250, -350, 90, -400, -110, 370, 0, 340, -170, 310, -350,
  -220, -500, -60, -520, 100, -480, 10, -420, -190, -270, 240, -390, 190, -290, -280, -350, 390, -80, -340, 220, 250, 370,
  -150, -430, 150, -510,
  -240, 190, -200, 280, -130, 330, 20, 360, 160, 340, 240, 210, 280, 90, 270, -60, 210, -190, 120, -320, 30, -360, -90, -340,
  -190, -280, -260, -170, -290, -40, -270, 110, -160, 240, 80, 290, 180, 160, 200, -100, 140, -220, -60, -260, -150, -150,
  -200, 30, -110, 280, 100, -290, 280, -220, -310, -210, 50, 390, -220, -380,
  -290, 150, -240, 250, -170, 300, 110, 320, 210, 280, 300, 160, 310, 40, 290, -90, 250, -260, 170, -300, 70, -330,
  -50, -310, -140, -290, -240, -240, -310, -120, -320, 30, -60, 320, 170, -360, -120, -390, 80, -410,
  -190, 100, -150, 170, -100, 220, -40, 240, 30, 250, 90, 230, 140, 180, 190, 120, 210, 40, 200, -50, 180, -120, 150, -190,
  100, -240, 40, -260, -20, -260, -90, -250, -150, -210, -190, -140, -220, -60, -220, 20, -180, 50, -120, 20, -80, -50,
  -30, -140, 40, -140, 90, -90, 140, -40, 120, 40, 40, 170, -30, 170, -90, 210, 20, -220, -160, -170, 160, 170, -60, -210,
  -130, 120, -70, 170, -10, 200, 50, 190, 110, 140, 160, 70, 170, -10, 140, -80, 90, -150, 30, -180, -40, -190, -100, -140,
  -160, -60, -170, 10, -140, 60, -80, 70, -30, 100, 40, 90, 80, 50, 90, -30, 50, -80, -10, -100, -60, -70, -100, -20,
  -40, 30, 20, 30, 50, -40, -20, -40, 0, 60, -50, 150, 70, 220, -110, -200, 130, -170, 200, 30, -200, -90,
  -110, 40, -60, 120, 10, 140, 60, 130, 110, 80, 120, 10, 100, -60, 60, -120, 0, -140, -60, -130, -110, -80, -120, -20,
  -50, 0, -30, -30, 0, -60, 30, -30, 50, 0, 30, 40, 0, 60, -30, 40, -70, 40, -70, -40, 70, 40, 70, -40, 0, 110, 0, -110,
  -40, 90, 40, 90, -40, -90, 40, -90, -100, 0, 100, 0,
];

const CLOUDS_A0 = [CLOUD_A0_T100, CLOUD_A0_T300, CLOUD_A0_T500, CLOUD_A0_T700, CLOUD_A0_T900];
const CLOUDS_A10 = [CLOUD_A10_T100, CLOUD_A10_T300, CLOUD_A10_T500, CLOUD_A10_T700, CLOUD_A10_T900];
const CLOUDS_A20 = [CLOUD_A20_T100, CLOUD_A20_T300, CLOUD_A20_T500, CLOUD_A20_T700, CLOUD_A20_T900];
const CLOUDS_A30 = [CLOUD_A30_T100, CLOUD_A30_T300, CLOUD_A30_T500, CLOUD_A30_T700, CLOUD_A30_T900];

const ROW_CLOUDS = [CLOUDS_A0, CLOUDS_A10, CLOUDS_A20, CLOUDS_A30];
const ROW_CEPS = [CEP_A0, CEP_A10, CEP_A20, CEP_A30];

// ---- layout ----
const FONT = '"Liberation Serif", "Times New Roman", serif';
const LEFT = 78; // room for y tick labels and title
const TOP = 3;
const PLOT_W = 145;
const BOTTOM = 34; // room for x tick labels and title
const RIGHT = 6;
const CW = LEFT + PLOT_W + RIGHT;
const PLOT_LEFTS = [81, 275, 469, 662, 856];
const PLOT_TOPS = [89, 279, 468, 659];
const PLOT_HEIGHTS = [145, 145, 145, 139];
const HEAD_CENTERS = [137, 347, 542, 734, 928];
const ROW_RULES = [263, 452, 641];

type Part = { t: string; k: "n" | "i" | "s" };

function drawRich(ctx: CanvasRenderingContext2D, parts: Part[], cx: number, cy: number) {
  const fontFor = (k: string) =>
    k === "i" ? `italic 12px ${FONT}` : k === "s" ? `8.5px ${FONT}` : `12px ${FONT}`;
  let w = 0;
  for (const p of parts) {
    ctx.font = fontFor(p.k);
    w += ctx.measureText(p.t).width;
  }
  let x = cx - w / 2;
  ctx.textBaseline = "middle";
  ctx.textAlign = "left";
  for (const p of parts) {
    ctx.font = fontFor(p.k);
    ctx.fillText(p.t, x, p.k === "s" ? cy + 3 : cy);
    x += ctx.measureText(p.t).width;
  }
}

const X_TITLE: Part[] = [
  { t: "cross-range error ", k: "n" },
  { t: "y", k: "i" },
  { t: "1", k: "s" },
  { t: " [m]", k: "n" },
];
const Y_TITLE: Part[] = [
  { t: "range error ", k: "n" },
  { t: "x", k: "i" },
  { t: "1", k: "s" },
  { t: " [m]", k: "n" },
];

const panelDecor = {
  id: "panelDecor",
  afterDatasetsDraw(chart: any, _args: any, opts: any) {
    const { ctx, chartArea: a, scales } = chart;
    const xs = scales.x;
    const ys = scales.y;
    const cep: number = opts.cep;
    ctx.save();

    // CEP circle around the mean impact point
    const cx = xs.getPixelForValue(CENTER[0]);
    const cy = ys.getPixelForValue(CENTER[1]);
    const rx = Math.abs(xs.getPixelForValue(CENTER[0] + cep) - cx);
    const ry = Math.abs(cy - ys.getPixelForValue(CENTER[1] + cep));
    ctx.strokeStyle = "#ff0000";
    ctx.lineWidth = 1.6;
    ctx.beginPath();
    ctx.ellipse(cx, cy, rx, ry, 0, 0, Math.PI * 2);
    ctx.stroke();

    // frame with inward ticks on all four sides
    ctx.strokeStyle = "#000";
    ctx.lineWidth = 1;
    ctx.strokeRect(a.left + 0.5, a.top + 0.5, a.width - 1, a.height - 1);
    ctx.beginPath();
    for (let v = AXIS_MIN + 100; v < AXIS_MAX; v += 100) {
      const len = v % 500 === 0 ? 4 : 2;
      const px = Math.round(xs.getPixelForValue(v)) + 0.5;
      ctx.moveTo(px, a.bottom);
      ctx.lineTo(px, a.bottom - len);
      ctx.moveTo(px, a.top);
      ctx.lineTo(px, a.top + len);
      const py = Math.round(ys.getPixelForValue(v)) + 0.5;
      ctx.moveTo(a.left, py);
      ctx.lineTo(a.left + len, py);
      ctx.moveTo(a.right, py);
      ctx.lineTo(a.right - len, py);
    }
    ctx.stroke();

    // CEP legend box
    const bx = a.left + 1;
    const by = a.top;
    ctx.fillStyle = "#fff";
    ctx.fillRect(bx, by, 80, 13);
    ctx.strokeRect(bx + 0.5, by + 0.5, 80, 13);
    ctx.fillStyle = "#000";
    ctx.font = `11px ${FONT}`;
    ctx.textBaseline = "middle";
    ctx.textAlign = "left";
    ctx.fillText(`CEP = ${cep.toFixed(2)} m`, bx + 3, by + 7.5);

    // axis titles
    ctx.fillStyle = "#333";
    drawRich(ctx, X_TITLE, (a.left + a.right) / 2, a.bottom + 25);
    ctx.translate(a.left - 33, (a.top + a.bottom) / 2);
    ctx.rotate(-Math.PI / 2);
    drawRich(ctx, Y_TITLE, 0, 0);
    ctx.restore();
  },
};

function axisOptions(isX: boolean) {
  return {
    type: "linear" as const,
    min: AXIS_MIN,
    max: AXIS_MAX,
    grid: { display: false, drawTicks: false },
    border: { display: false },
    afterBuildTicks: (s: any) => {
      s.ticks = AXIS_TICKS.map((value) => ({ value }));
    },
    afterFit: (s: any) => {
      if (isX) {
        s.height = BOTTOM;
        s.paddingLeft = 0;
        s.paddingRight = 0;
      } else {
        s.width = LEFT;
        s.paddingTop = 0;
        s.paddingBottom = 0;
      }
    },
    ticks: {
      padding: isX ? 4 : 3,
      autoSkip: false,
      maxRotation: 0,
      minRotation: 0,
      color: "#444",
      font: { family: FONT, size: 11 },
      callback: (v: any) => String(v),
    },
  };
}

function Panel({
  cloud,
  cep,
  left,
  top,
  plotH,
}: {
  cloud: number[];
  cep: number;
  left: number;
  top: number;
  plotH: number;
}) {
  const ref = useRef<HTMLCanvasElement>(null);
  const ch = TOP + plotH + BOTTOM;
  useEffect(() => {
    const pts: { x: number; y: number }[] = [];
    for (let i = 0; i + 1 < cloud.length; i += 2) pts.push({ x: cloud[i], y: cloud[i + 1] });
    const chart = new Chart(ref.current!, {
      type: "scatter",
      data: {
        datasets: [
          {
            // mean impact point
            data: [{ x: CENTER[0], y: CENTER[1] }],
            pointStyle: "rectRot",
            pointRadius: 3.6,
            pointBorderWidth: 0,
            pointBackgroundColor: "#ff0000",
            pointBorderColor: "#ff0000",
            order: 0,
          },
          {
            // black marker faces
            data: pts,
            pointRadius: 1.6,
            pointBorderWidth: 0,
            pointBackgroundColor: "#000",
            pointBorderColor: "#000",
            order: 1,
          },
          {
            // green marker edges, drawn underneath
            data: pts,
            pointRadius: 2.4,
            pointBorderWidth: 0,
            pointBackgroundColor: "#00f000",
            pointBorderColor: "#00f000",
            order: 2,
          },
        ],
      },
      options: {
        animation: false,
        responsive: false,
        events: [],
        layout: { padding: { left: 0, top: TOP, right: RIGHT, bottom: 0 } },
        plugins: {
          legend: { display: false },
          tooltip: { enabled: false },
          panelDecor: { cep },
        } as any,
        scales: { x: axisOptions(true), y: axisOptions(false) } as any,
      },
      plugins: [panelDecor],
    });
    return () => chart.destroy();
  }, [cloud, cep, plotH]);
  return (
    <canvas
      ref={ref}
      width={CW}
      height={ch}
      style={{ position: "absolute", left, top, width: CW, height: ch }}
    />
  );
}

function Rule({ top, height }: { top: number; height: number }) {
  return <div style={{ position: "absolute", left: 4, top, width: 996, height, background: "#000" }} />;
}

export default function App() {
  return (
    <div
      style={{
        position: "absolute",
        left: 0,
        top: 0,
        width: 1000,
        height: 831,
        overflow: "hidden",
        background: "#fff",
        fontFamily: FONT,
        color: "#000",
      }}
    >
      <Rule top={9} height={3} />
      <div
        style={{
          position: "absolute",
          left: 8,
          top: 14,
          width: 1000,
          height: 28,
          lineHeight: "28px",
          textAlign: "center",
          fontSize: 24,
          fontWeight: "bold",
          whiteSpace: "nowrap",
        }}
      >
        angle <i>Θ</i>
        <sub style={{ fontSize: "0.7em", lineHeight: 0 }}>
          <i>g</i>
        </sub>
        &nbsp; [°] / lateral thruster magnitude <i>T</i>
        <sub style={{ fontSize: "0.7em", lineHeight: 0 }}>
          <i>sk</i>
        </sub>
        &nbsp; [N]
      </div>
      <Rule top={44} height={2} />
      {THRUSTS.map((t, i) => (
        <div
          key={t}
          style={{
            position: "absolute",
            left: HEAD_CENTERS[i] - 50,
            top: 47,
            width: 100,
            height: 24,
            lineHeight: "24px",
            textAlign: "center",
            fontSize: 23,
            transform: "scaleX(0.72)",
          }}
        >
          {t}
        </div>
      ))}
      <Rule top={72} height={2} />
      {ROW_RULES.map((y) => (
        <Rule key={y} top={y} height={3} />
      ))}
      {ANGLES.map((a, r) => (
        <div
          key={a}
          style={{
            position: "absolute",
            left: 25 - 40,
            top: PLOT_TOPS[r] + PLOT_HEIGHTS[r] / 2 - 15,
            width: 80,
            height: 30,
            lineHeight: "30px",
            textAlign: "center",
            fontSize: 26,
            transform: "rotate(-90deg)",
          }}
        >
          {a === 0 ? "0" : "\u2212" + Math.abs(a)}
        </div>
      ))}
      {ROW_CLOUDS.map((clouds, r) =>
        clouds.map((cloud, c) => (
          <Panel
            key={`${r}-${c}`}
            cloud={cloud}
            cep={ROW_CEPS[r][c]}
            left={PLOT_LEFTS[c] - LEFT}
            top={PLOT_TOPS[r] - TOP}
            plotH={PLOT_HEIGHTS[r]}
          />
        ))
      )}
    </div>
  );
}
